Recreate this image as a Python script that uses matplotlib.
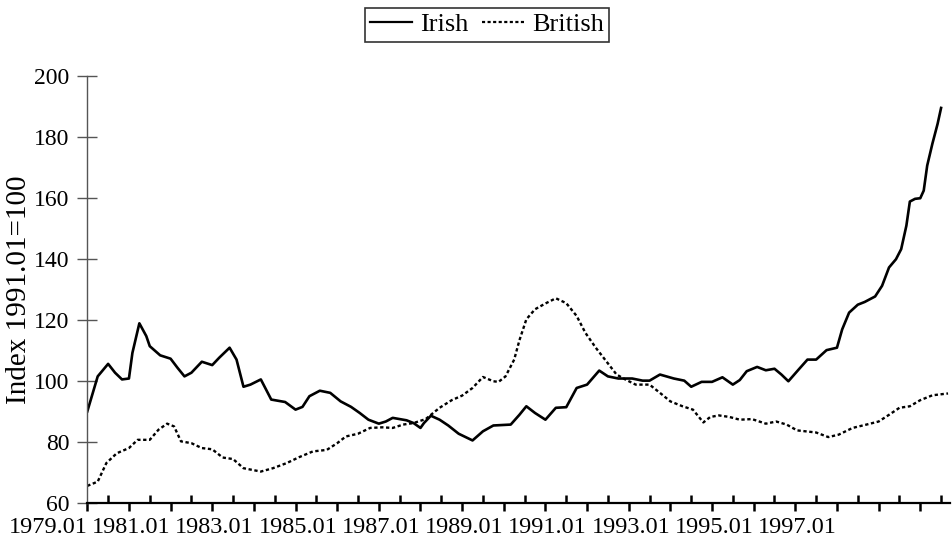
"""Irish vs British index, 1979.01-1999, index 1991.01=100."""

import matplotlib

matplotlib.use("Agg")

import matplotlib.pyplot as plt
from matplotlib.lines import Line2D


# months counted from 1979.01
IRISH_MONTH = [
    0, 3, 6, 8, 10, 12, 13, 15, 17, 18, 21, 24, 26, 28, 30, 33, 36, 38, 41, 43,
    45, 47, 50, 53, 57, 60, 62, 64, 67, 70, 73, 76, 78.5, 81, 84, 86, 88, 92,
    94, 96, 97, 99, 101.5, 104, 107, 111, 114, 117, 122, 124.5, 126.5, 129,
    132, 135, 138, 141, 144, 147.5, 150, 153, 157, 160, 162, 165, 169, 172,
    174, 177, 180, 183, 186, 188, 190, 193, 195.5, 198, 200, 202, 205, 207.5,
    210, 213, 216, 217.5, 219.5, 222, 224, 227, 229, 231, 233, 234.5, 236,
    237, 238.5, 240, 241, 242, 243.5, 245, 246,
]
IRISH = [
    90.0, 101.5, 105.6, 102.7, 100.5, 100.8, 109.2, 118.9, 114.7, 111.4,
    108.4, 107.3, 104.3, 101.5, 102.7, 106.3, 105.2, 107.6, 110.9, 107.0,
    98.1, 98.8, 100.5, 93.9, 93.1, 90.6, 91.5, 95.0, 96.8, 96.1, 93.3, 91.5,
    89.5, 87.3, 86.0, 86.7, 87.9, 87.1, 86.2, 84.6, 86.2, 88.6, 87.3, 85.4,
    82.7, 80.5, 83.5, 85.4, 85.7, 88.9, 91.7, 89.5, 87.3, 91.2, 91.4, 97.7,
    98.8, 103.4, 101.5, 100.8, 100.8, 100.1, 100.1, 102.1, 100.8, 100.1,
    98.1, 99.7, 99.7, 101.2, 98.8, 100.3, 103.2, 104.6, 103.5, 104.0, 102.1,
    99.9, 103.8, 107.0, 107.0, 110.1, 110.9, 116.9, 122.4, 125.0, 125.9,
    127.7, 131.2, 137.2, 139.9, 143.2, 150.9, 158.8, 159.7, 159.9, 162.4,
    170.6, 177.8, 184.3, 189.5,
]

BRITISH_MONTH = [
    0, 3, 5.5, 8.5, 12, 14.5, 18, 20.5, 23, 25, 27, 30, 33, 36, 39, 42, 45,
    50, 53.5, 57.5, 61, 65, 69, 72, 74.5, 78, 81.5, 85, 88, 91, 94, 97.5,
    101.5, 105, 108, 111, 114, 117, 118.5, 120.5, 123, 124.5, 126.5, 129,
    132, 135, 138, 141, 143.5, 146.5, 149.5, 152.5, 155, 158, 162, 165, 168,
    171.5, 174.5, 177.5, 179.5, 182, 185, 188, 191.5, 195.5, 198.5, 201.5,
    204.5, 210, 213.5, 216.5, 220.5, 224.5, 228, 231, 234, 237, 240, 243.5,
    248,
]
BRITISH = [
    65.6, 67.0, 73.1, 76.3, 78.0, 80.7, 80.7, 84.0, 86.0, 85.1, 80.2, 79.6,
    78.0, 77.6, 74.9, 74.4, 71.4, 70.3, 71.4, 73.1, 75.0, 76.9, 77.4, 79.6,
    81.8, 82.7, 84.6, 84.8, 84.6, 85.7, 86.2, 87.5, 91.2, 93.7, 95.2, 97.7,
    101.3, 99.9, 99.7, 101.5, 107.0, 113.3, 120.2, 123.5, 125.4, 127.1,
    125.5, 121.3, 115.8, 110.9, 106.5, 102.1, 100.5, 98.8, 98.8, 96.1, 93.3,
    91.7, 90.6, 86.4, 88.2, 88.7, 88.2, 87.3, 87.5, 86.0, 86.7, 85.7, 83.8,
    83.1, 81.6, 82.4, 84.6, 85.7, 86.7, 88.9, 91.2, 91.7, 93.7, 95.3, 95.9,
]

YEAR_TICKS = list(range(0, 241, 12))
HALF_TICKS = list(range(6, 247, 12))
YEAR_LABELS = [f"{1979 + m // 12}.01" if (m // 12) % 2 == 0 and m <= 216 else ""
               for m in YEAR_TICKS]
Y_TICKS = [60, 80, 100, 120, 140, 160, 180, 200]

SERIF = "Liberation Serif"


def main():
    plt.rcParams["font.family"] = [SERIF, "DejaVu Serif"]

    fig = plt.figure(figsize=(9.53, 5.5), dpi=100)
    ax = fig.add_axes([0.0916, 0.0855, 0.905, 0.7765])

    ax.plot(IRISH_MONTH, IRISH, color="black", linewidth=1.9,
            solid_joinstyle="round", label="Irish")
    ax.plot(BRITISH_MONTH, BRITISH, color="black", linewidth=1.7,
            linestyle=(0, (1.4, 1.1)), label="British")

    ax.set_xlim(0, 248.5)
    ax.set_ylim(60, 200)

    for side in ("top", "right"):
        ax.spines[side].set_visible(False)
    ax.spines["left"].set_color("#555555")
    ax.spines["left"].set_linewidth(1.0)
    ax.spines["bottom"].set_linewidth(1.6)

    ax.set_yticks(Y_TICKS)
    ax.tick_params(axis="y", direction="inout", length=14, width=1.0,
                   color="#555555", pad=6, labelsize=17)

    ax.set_xticks(YEAR_TICKS)
    ax.set_xticklabels(YEAR_LABELS, ha="right")
    ax.set_xticks(HALF_TICKS, minor=True)
    ax.tick_params(axis="x", which="major", direction="out", length=6,
                   width=1.8, pad=4, labelsize=17.5)
    ax.tick_params(axis="x", which="minor", direction="in", length=6,
                   width=1.8)

    ax.set_ylabel("Index 1991.01=100", fontsize=21)
    ax.yaxis.set_label_coords(-0.064, 0.5)

    handles = [
        Line2D([], [], color="black", linewidth=1.6),
        Line2D([], [], color="black", linewidth=1.6, linestyle=(0, (1.4, 1.1))),
    ]
    leg = fig.legend(handles, ["Irish", "British"], loc="center",
                     bbox_to_anchor=(0.511, 0.955), ncol=2, fontsize=19,
                     frameon=True, fancybox=False, handlelength=1.6,
                     handletextpad=0.3, columnspacing=0.5, borderpad=0.2,
                     borderaxespad=0)
    leg.get_frame().set_edgecolor("black")
    leg.get_frame().set_linewidth(1.2)

    fig.savefig("out.png", dpi=100)
    plt.close(fig)


if __name__ == "__main__":
    main()
